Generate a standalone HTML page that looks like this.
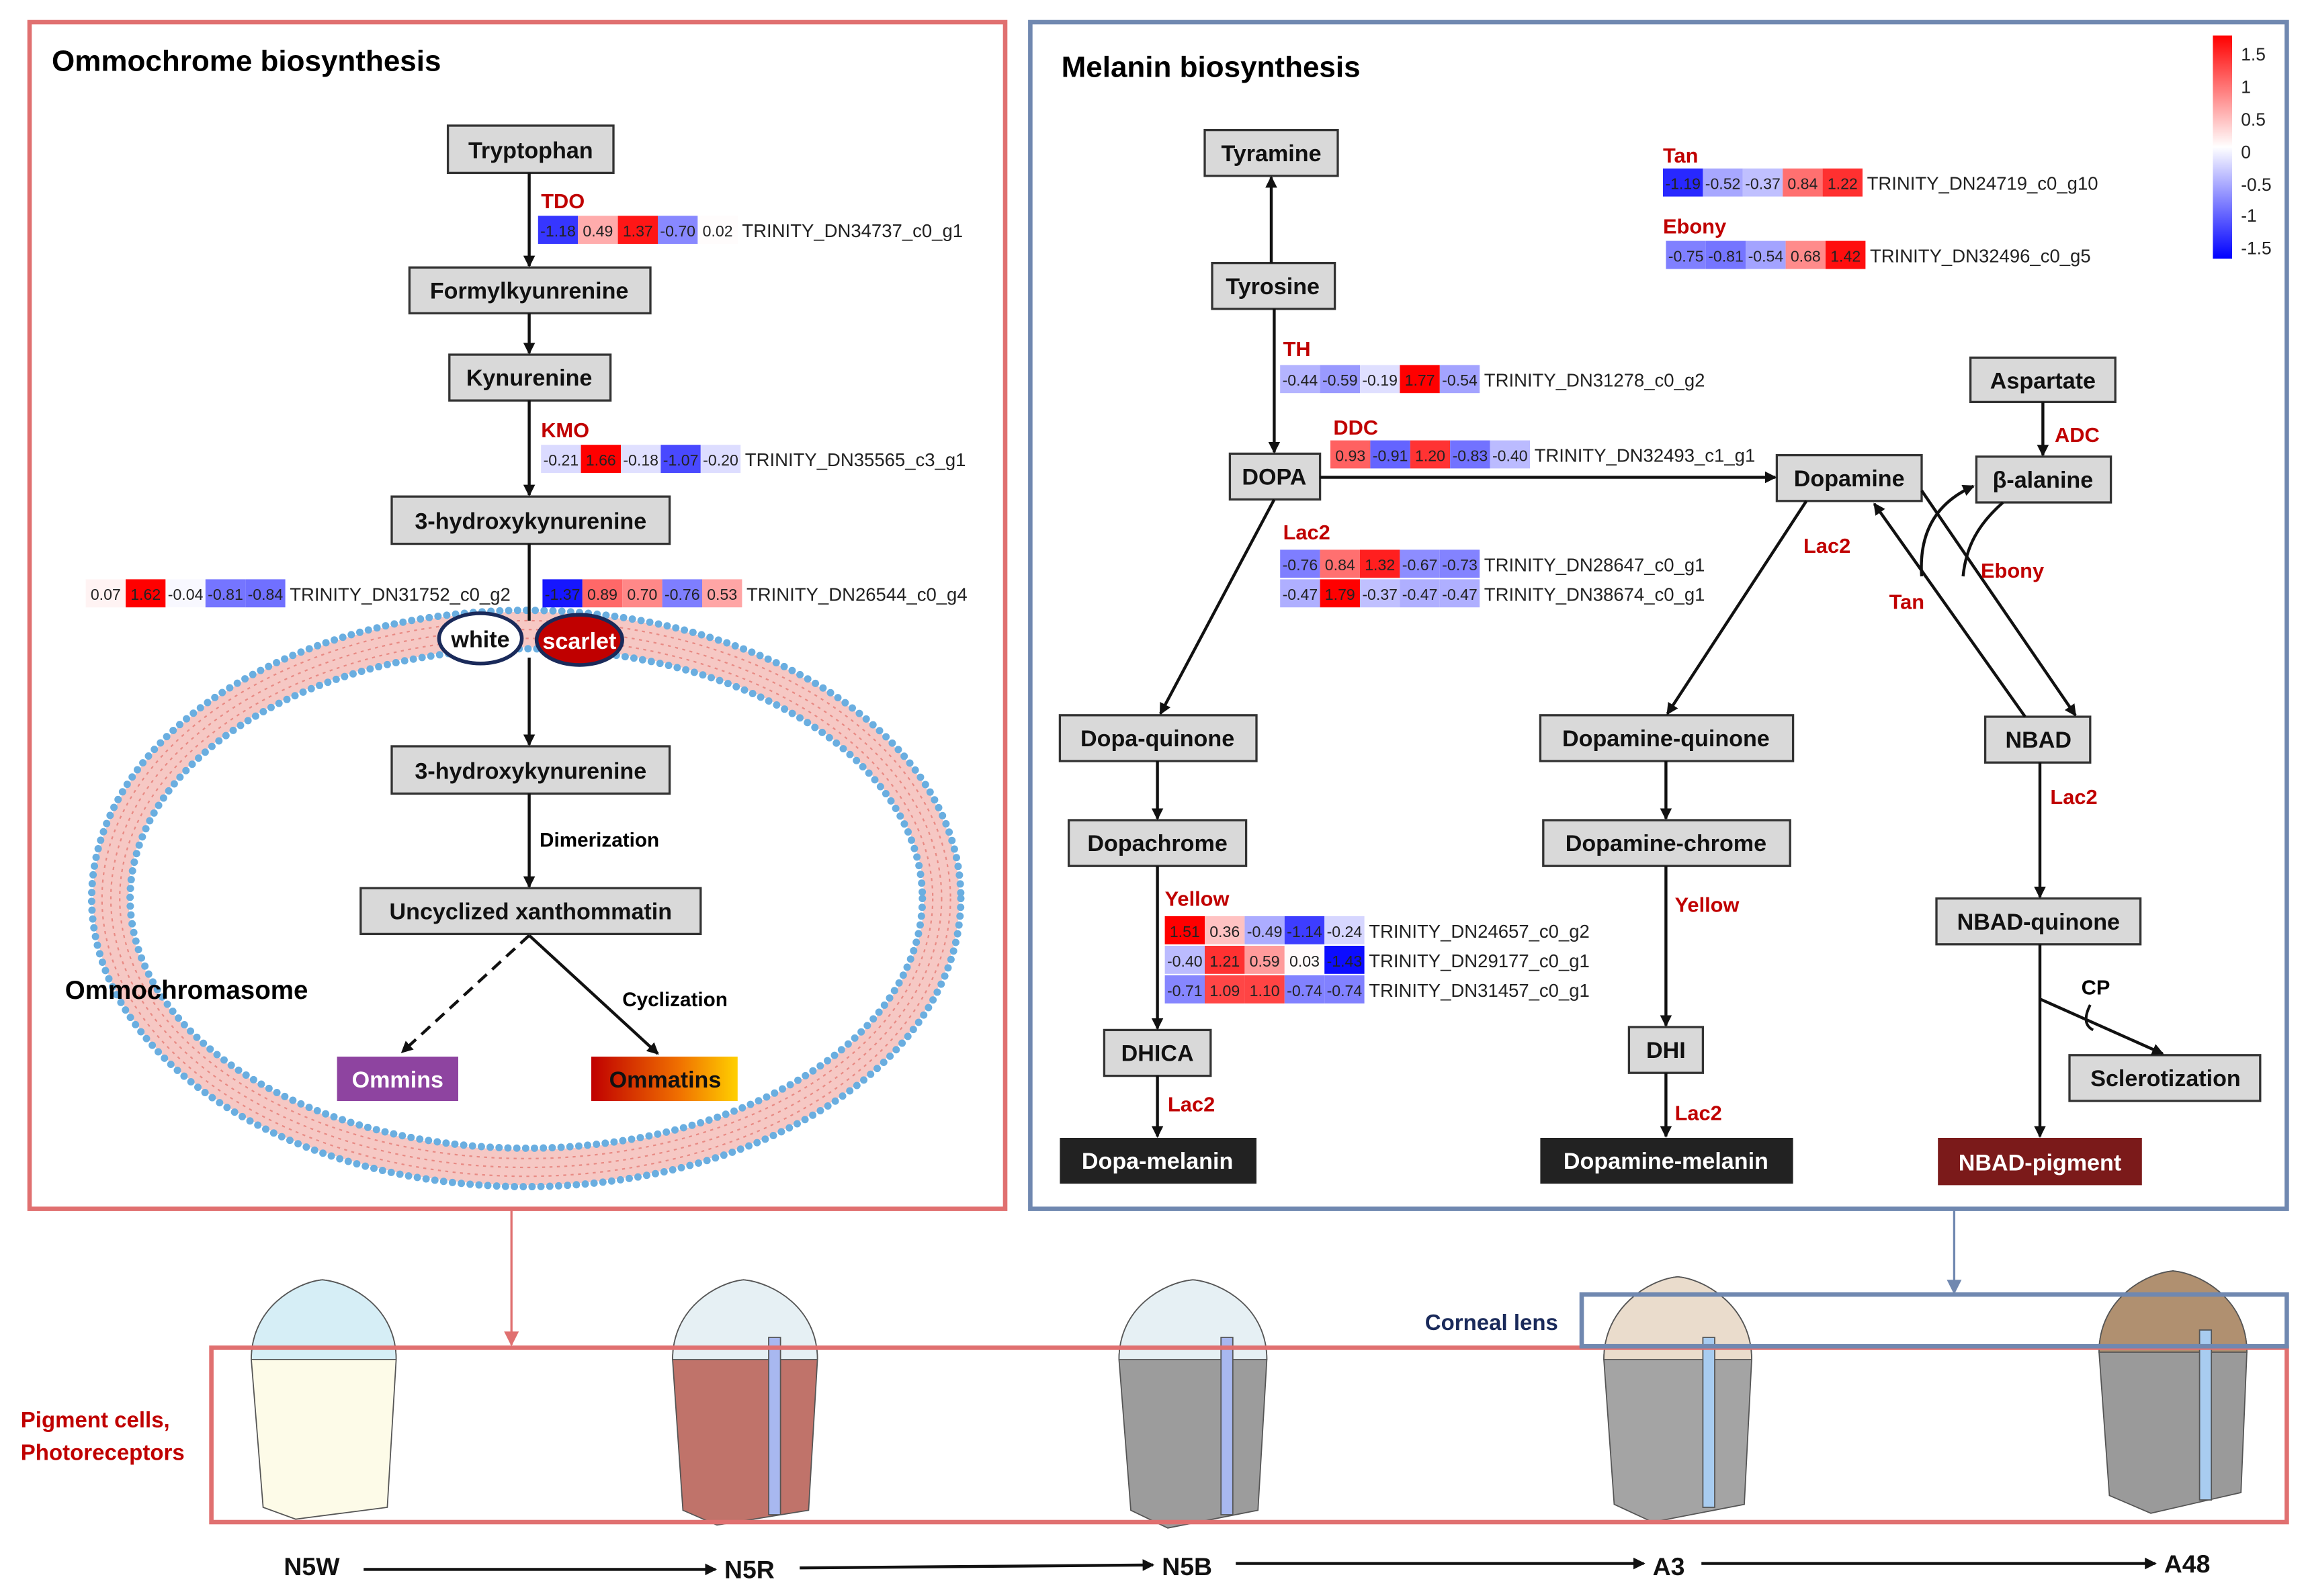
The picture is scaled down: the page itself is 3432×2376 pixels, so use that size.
<!DOCTYPE html>
<html><head><meta charset="utf-8"><style>
html,body{margin:0;padding:0;background:#fff;}
svg{display:block;}
text{font-family:"Liberation Sans",sans-serif;}
.n{fill:#d9d9d9;stroke:#333;stroke-width:1.5;}
.nt{font-weight:bold;font-size:15.5px;fill:#111;text-anchor:middle;}
.r{font-weight:bold;font-size:14px;fill:#c00000;}
.c{font-size:10.5px;fill:#222;text-anchor:middle;}
.g{font-size:12.5px;fill:#222;}
.a{stroke:#111;stroke-width:2;fill:none;marker-end:url(#ah);}
</style></head><body>
<svg width="3432" height="2376" viewBox="0 0 1560 1080" xmlns="http://www.w3.org/2000/svg">
<defs>
<marker id="ah" markerWidth="8" markerHeight="8" refX="7" refY="4" orient="auto" markerUnits="userSpaceOnUse"><path d="M0,0 L8,4 L0,8 z" fill="#111"/></marker>
<marker id="ahr" markerWidth="10" markerHeight="10" refX="9" refY="5" orient="auto" markerUnits="userSpaceOnUse"><path d="M0,0 L10,5 L0,10 z" fill="#e07070"/></marker>
<marker id="ahb" markerWidth="10" markerHeight="10" refX="9" refY="5" orient="auto" markerUnits="userSpaceOnUse"><path d="M0,0 L10,5 L0,10 z" fill="#7088b0"/></marker>
<linearGradient id="omt" x1="0" x2="1" y1="0" y2="0"><stop offset="0" stop-color="#c00000"/><stop offset="0.6" stop-color="#f07000"/><stop offset="1" stop-color="#ffd000"/></linearGradient>
<linearGradient id="cb" x1="0" x2="0" y1="0" y2="1"><stop offset="0" stop-color="#ff0000"/><stop offset="0.5" stop-color="#ffffff"/><stop offset="1" stop-color="#0000ff"/></linearGradient>
</defs>

<rect x="20" y="15" width="660" height="803" fill="none" stroke="#e07070" stroke-width="3"/>
<rect x="697" y="15" width="850" height="803" fill="none" stroke="#7088b0" stroke-width="3"/>
<text x="35" y="48" font-weight="bold" font-size="20">Ommochrome biosynthesis</text>
<text x="718" y="52" font-weight="bold" font-size="20">Melanin biosynthesis</text>

<ellipse cx="356" cy="608" rx="281" ry="182" fill="none" stroke="#f6c8c4" stroke-width="24"/>
<ellipse cx="356" cy="608" rx="281" ry="182" fill="none" stroke="#e88a84" stroke-width="1" stroke-dasharray="2 3"/>
<ellipse cx="356" cy="608" rx="287" ry="188" fill="none" stroke="#e88a84" stroke-width="1" stroke-dasharray="2 3"/>
<ellipse cx="356" cy="608" rx="275" ry="176" fill="none" stroke="#e88a84" stroke-width="1" stroke-dasharray="2 3"/>
<ellipse cx="356" cy="608" rx="294" ry="195" fill="none" stroke="#6aaee0" stroke-width="5" stroke-dasharray="0 6" stroke-linecap="round"/>
<ellipse cx="356" cy="608" rx="268" ry="169" fill="none" stroke="#6aaee0" stroke-width="5" stroke-dasharray="0 6" stroke-linecap="round"/>

<rect class="n" x="303" y="85" width="112" height="32"/><text class="nt" x="359" y="107">Tryptophan</text>
<rect class="n" x="277" y="181" width="163" height="31"/><text class="nt" x="358" y="202">Formylkyunrenine</text>
<rect class="n" x="304" y="240" width="109" height="31"/><text class="nt" x="358" y="261">Kynurenine</text>
<rect class="n" x="265" y="336" width="188" height="32"/><text class="nt" x="359" y="358">3-hydroxykynurenine</text>
<rect class="n" x="265" y="505" width="188" height="32"/><text class="nt" x="359" y="527">3-hydroxykynurenine</text>
<rect class="n" x="244" y="601" width="230" height="31"/><text class="nt" x="359" y="622">Uncyclized xanthommatin</text>
<rect x="228" y="715" width="82" height="30" fill="#8e44a0"/><text class="nt" x="269" y="736" style="fill:#fff">Ommins</text>
<rect x="400" y="715" width="99" height="30" fill="url(#omt)"/><text class="nt" x="450" y="736">Ommatins</text>

<line class="a" x1="358" y1="117" x2="358" y2="180"/>
<line class="a" x1="358" y1="212" x2="358" y2="239"/>
<line class="a" x1="358" y1="271" x2="358" y2="335"/>
<line x1="358" y1="368" x2="358" y2="420" stroke="#111" stroke-width="2"/>
<line class="a" x1="358" y1="445" x2="358" y2="504"/>
<line class="a" x1="358" y1="537" x2="358" y2="600"/>
<line class="a" x1="358" y1="633" x2="272" y2="712" stroke-dasharray="8 5"/>
<line class="a" x1="358" y1="633" x2="445" y2="713"/>
<ellipse cx="325" cy="432" rx="28" ry="17" fill="#fff" stroke="#1a2a5a" stroke-width="2.5"/>
<text class="nt" x="325" y="438">white</text>
<ellipse cx="392" cy="433" rx="29" ry="17" fill="#c00000" stroke="#1a2a5a" stroke-width="2.5"/>
<text class="nt" x="392" y="439" style="fill:#fff">scarlet</text>
<text x="365" y="573" font-weight="bold" font-size="13.5">Dimerization</text>
<text x="421" y="681" font-weight="bold" font-size="13.5">Cyclization</text>
<text x="44" y="676" font-weight="bold" font-size="17.5">Ommochromasome</text>

<text class="r" x="366" y="141">TDO</text>
<text class="r" x="366" y="296">KMO</text>

<g transform="translate(364,146)">
<rect width="27" height="19" fill="rgb(54,54,255)"/><rect x="27" width="27" height="19" fill="rgb(255,172,172)"/><rect x="54" width="27" height="19" fill="rgb(255,22,22)"/><rect x="81" width="27" height="19" fill="rgb(136,136,255)"/><rect x="108" width="27" height="19" fill="rgb(255,252,252)"/>
<text class="c" x="13.5" y="14">-1.18</text><text class="c" x="40.5" y="14">0.49</text><text class="c" x="67.5" y="14">1.37</text><text class="c" x="94.5" y="14">-0.70</text><text class="c" x="121.5" y="14">0.02</text>
<text class="g" x="138" y="14.5">TRINITY_DN34737_c0_g1</text></g>
<g transform="translate(366,301)">
<rect width="27" height="19" fill="rgb(219,219,255)"/><rect x="27" width="27" height="19" fill="rgb(255,0,0)"/><rect x="54" width="27" height="19" fill="rgb(224,224,255)"/><rect x="81" width="27" height="19" fill="rgb(73,73,255)"/><rect x="108" width="27" height="19" fill="rgb(221,221,255)"/>
<text class="c" x="13.5" y="14">-0.21</text><text class="c" x="40.5" y="14">1.66</text><text class="c" x="67.5" y="14">-0.18</text><text class="c" x="94.5" y="14">-1.07</text><text class="c" x="121.5" y="14">-0.20</text>
<text class="g" x="138" y="14.5">TRINITY_DN35565_c3_g1</text></g>
<g transform="translate(58,392)">
<rect width="27" height="19" fill="rgb(255,243,243)"/><rect x="27" width="27" height="19" fill="rgb(255,0,0)"/><rect x="54" width="27" height="19" fill="rgb(248,248,255)"/><rect x="81" width="27" height="19" fill="rgb(117,117,255)"/><rect x="108" width="27" height="19" fill="rgb(112,112,255)"/>
<text class="c" x="13.5" y="14">0.07</text><text class="c" x="40.5" y="14">1.62</text><text class="c" x="67.5" y="14">-0.04</text><text class="c" x="94.5" y="14">-0.81</text><text class="c" x="121.5" y="14">-0.84</text>
<text class="g" x="138" y="14.5">TRINITY_DN31752_c0_g2</text></g>
<g transform="translate(367,392)">
<rect width="27" height="19" fill="rgb(22,22,255)"/><rect x="27" width="27" height="19" fill="rgb(255,104,104)"/><rect x="54" width="27" height="19" fill="rgb(255,136,136)"/><rect x="81" width="27" height="19" fill="rgb(126,126,255)"/><rect x="108" width="27" height="19" fill="rgb(255,165,165)"/>
<text class="c" x="13.5" y="14">-1.37</text><text class="c" x="40.5" y="14">0.89</text><text class="c" x="67.5" y="14">0.70</text><text class="c" x="94.5" y="14">-0.76</text><text class="c" x="121.5" y="14">0.53</text>
<text class="g" x="138" y="14.5">TRINITY_DN26544_c0_g4</text></g>

<rect class="n" x="815" y="88" width="90" height="31"/><text class="nt" x="860" y="109">Tyramine</text>
<rect class="n" x="820" y="178" width="83" height="31"/><text class="nt" x="861" y="199">Tyrosine</text>
<rect class="n" x="832" y="307" width="61" height="31"/><text class="nt" x="862" y="328">DOPA</text>
<rect class="n" x="1202" y="308" width="98" height="31"/><text class="nt" x="1251" y="329">Dopamine</text>
<rect class="n" x="1333" y="242" width="98" height="30"/><text class="nt" x="1382" y="263">Aspartate</text>
<rect class="n" x="1337" y="309" width="91" height="31"/><text class="nt" x="1382" y="330">β-alanine</text>
<rect class="n" x="717" y="484" width="133" height="31"/><text class="nt" x="783" y="505">Dopa-quinone</text>
<rect class="n" x="723" y="555" width="120" height="31"/><text class="nt" x="783" y="576">Dopachrome</text>
<rect class="n" x="747" y="697" width="72" height="31"/><text class="nt" x="783" y="718">DHICA</text>
<rect x="717" y="770" width="133" height="31" fill="#222"/><text class="nt" x="783" y="791" style="fill:#fff">Dopa-melanin</text>
<rect class="n" x="1042" y="484" width="171" height="31"/><text class="nt" x="1127" y="505">Dopamine-quinone</text>
<rect class="n" x="1044" y="555" width="167" height="31"/><text class="nt" x="1127" y="576">Dopamine-chrome</text>
<rect class="n" x="1102" y="695" width="50" height="31"/><text class="nt" x="1127" y="716">DHI</text>
<rect x="1042" y="770" width="171" height="31" fill="#222"/><text class="nt" x="1127" y="791" style="fill:#fff">Dopamine-melanin</text>
<rect class="n" x="1343" y="485" width="71" height="31"/><text class="nt" x="1379" y="506">NBAD</text>
<rect class="n" x="1310" y="608" width="138" height="31"/><text class="nt" x="1379" y="629">NBAD-quinone</text>
<rect class="n" x="1400" y="714" width="129" height="31"/><text class="nt" x="1465" y="735">Sclerotization</text>
<rect x="1311" y="770" width="138" height="32" fill="#7b1a1a"/><text class="nt" x="1380" y="792" style="fill:#fff">NBAD-pigment</text>

<line class="a" x1="860" y1="178" x2="860" y2="120"/>
<line class="a" x1="862" y1="209" x2="862" y2="306"/>
<line class="a" x1="893" y1="323" x2="1201" y2="323"/>
<line class="a" x1="862" y1="338" x2="785" y2="483"/>
<line class="a" x1="1222" y1="339" x2="1128" y2="483"/>
<line class="a" x1="783" y1="515" x2="783" y2="554"/>
<line class="a" x1="783" y1="586" x2="783" y2="696"/>
<line class="a" x1="783" y1="728" x2="783" y2="769"/>
<line class="a" x1="1127" y1="515" x2="1127" y2="554"/>
<line class="a" x1="1127" y1="586" x2="1127" y2="694"/>
<line class="a" x1="1127" y1="726" x2="1127" y2="769"/>
<line class="a" x1="1382" y1="272" x2="1382" y2="308"/>
<line class="a" x1="1370" y1="485" x2="1268" y2="341"/>
<line class="a" x1="1300" y1="332" x2="1404" y2="484"/>
<path class="a" d="M1300,390 C1298,360 1310,340 1335,329"/>
<path d="M1355,340 C1338,355 1330,370 1328,390" stroke="#111" stroke-width="2" fill="none"/>
<line class="a" x1="1380" y1="516" x2="1380" y2="607"/>
<line class="a" x1="1380" y1="639" x2="1380" y2="769"/>
<line class="a" x1="1380" y1="676" x2="1463" y2="713"/>
<path d="M1414,680 C1410,688 1410,694 1416,697" stroke="#111" stroke-width="1.8" fill="none"/>

<text class="r" x="868" y="241">TH</text>
<text class="r" x="902" y="294">DDC</text>
<text class="r" x="868" y="365">Lac2</text>
<text class="r" x="1220" y="374">Lac2</text>
<text class="r" x="1390" y="299">ADC</text>
<text class="r" x="1340" y="391">Ebony</text>
<text class="r" x="1278" y="412">Tan</text>
<text class="r" x="788" y="613">Yellow</text>
<text class="r" x="1133" y="617">Yellow</text>
<text class="r" x="790" y="752">Lac2</text>
<text class="r" x="1133" y="758">Lac2</text>
<text class="r" x="1387" y="544">Lac2</text>
<text x="1408" y="673" font-weight="bold" font-size="14">CP</text>
<text class="r" x="1125" y="110">Tan</text>
<text class="r" x="1125" y="158">Ebony</text>

<g transform="translate(1125,114)">
<rect width="27" height="19" fill="rgb(40,40,255)"/><rect x="27" width="27" height="19" fill="rgb(167,167,255)"/><rect x="54" width="27" height="19" fill="rgb(192,192,255)"/><rect x="81" width="27" height="19" fill="rgb(255,112,112)"/><rect x="108" width="27" height="19" fill="rgb(255,48,48)"/>
<text class="c" x="13.5" y="14">-1.19</text><text class="c" x="40.5" y="14">-0.52</text><text class="c" x="67.5" y="14">-0.37</text><text class="c" x="94.5" y="14">0.84</text><text class="c" x="121.5" y="14">1.22</text>
<text class="g" x="138" y="14.5">TRINITY_DN24719_c0_g10</text></g>
<g transform="translate(1127,163)">
<rect width="27" height="19" fill="rgb(128,128,255)"/><rect x="27" width="27" height="19" fill="rgb(117,117,255)"/><rect x="54" width="27" height="19" fill="rgb(163,163,255)"/><rect x="81" width="27" height="19" fill="rgb(255,139,139)"/><rect x="108" width="27" height="19" fill="rgb(255,14,14)"/>
<text class="c" x="13.5" y="14">-0.75</text><text class="c" x="40.5" y="14">-0.81</text><text class="c" x="67.5" y="14">-0.54</text><text class="c" x="94.5" y="14">0.68</text><text class="c" x="121.5" y="14">1.42</text>
<text class="g" x="138" y="14.5">TRINITY_DN32496_c0_g5</text></g>
<g transform="translate(866,247)">
<rect width="27" height="19" fill="rgb(180,180,255)"/><rect x="27" width="27" height="19" fill="rgb(153,153,255)"/><rect x="54" width="27" height="19" fill="rgb(223,223,255)"/><rect x="81" width="27" height="19" fill="rgb(255,0,0)"/><rect x="108" width="27" height="19" fill="rgb(163,163,255)"/>
<text class="c" x="13.5" y="14">-0.44</text><text class="c" x="40.5" y="14">-0.59</text><text class="c" x="67.5" y="14">-0.19</text><text class="c" x="94.5" y="14">1.77</text><text class="c" x="121.5" y="14">-0.54</text>
<text class="g" x="138" y="14.5">TRINITY_DN31278_c0_g2</text></g>
<g transform="translate(900,298)">
<rect width="27" height="19" fill="rgb(255,97,97)"/><rect x="27" width="27" height="19" fill="rgb(100,100,255)"/><rect x="54" width="27" height="19" fill="rgb(255,51,51)"/><rect x="81" width="27" height="19" fill="rgb(114,114,255)"/><rect x="108" width="27" height="19" fill="rgb(187,187,255)"/>
<text class="c" x="13.5" y="14">0.93</text><text class="c" x="40.5" y="14">-0.91</text><text class="c" x="67.5" y="14">1.20</text><text class="c" x="94.5" y="14">-0.83</text><text class="c" x="121.5" y="14">-0.40</text>
<text class="g" x="138" y="14.5">TRINITY_DN32493_c1_g1</text></g>
<g transform="translate(866,372)">
<rect width="27" height="19" fill="rgb(126,126,255)"/><rect x="27" width="27" height="19" fill="rgb(255,112,112)"/><rect x="54" width="27" height="19" fill="rgb(255,31,31)"/><rect x="81" width="27" height="19" fill="rgb(141,141,255)"/><rect x="108" width="27" height="19" fill="rgb(131,131,255)"/>
<text class="c" x="13.5" y="14">-0.76</text><text class="c" x="40.5" y="14">0.84</text><text class="c" x="67.5" y="14">1.32</text><text class="c" x="94.5" y="14">-0.67</text><text class="c" x="121.5" y="14">-0.73</text>
<text class="g" x="138" y="14.5">TRINITY_DN28647_c0_g1</text></g>
<g transform="translate(866,392)">
<rect width="27" height="19" fill="rgb(175,175,255)"/><rect x="27" width="27" height="19" fill="rgb(255,0,0)"/><rect x="54" width="27" height="19" fill="rgb(192,192,255)"/><rect x="81" width="27" height="19" fill="rgb(175,175,255)"/><rect x="108" width="27" height="19" fill="rgb(175,175,255)"/>
<text class="c" x="13.5" y="14">-0.47</text><text class="c" x="40.5" y="14">1.79</text><text class="c" x="67.5" y="14">-0.37</text><text class="c" x="94.5" y="14">-0.47</text><text class="c" x="121.5" y="14">-0.47</text>
<text class="g" x="138" y="14.5">TRINITY_DN38674_c0_g1</text></g>
<g transform="translate(788,620)">
<rect width="27" height="19" fill="rgb(255,0,0)"/><rect x="27" width="27" height="19" fill="rgb(255,194,194)"/><rect x="54" width="27" height="19" fill="rgb(172,172,255)"/><rect x="81" width="27" height="19" fill="rgb(61,61,255)"/><rect x="108" width="27" height="19" fill="rgb(214,214,255)"/>
<text class="c" x="13.5" y="14">1.51</text><text class="c" x="40.5" y="14">0.36</text><text class="c" x="67.5" y="14">-0.49</text><text class="c" x="94.5" y="14">-1.14</text><text class="c" x="121.5" y="14">-0.24</text>
<text class="g" x="138" y="14.5">TRINITY_DN24657_c0_g2</text></g>
<g transform="translate(788,640)">
<rect width="27" height="19" fill="rgb(187,187,255)"/><rect x="27" width="27" height="19" fill="rgb(255,49,49)"/><rect x="54" width="27" height="19" fill="rgb(255,155,155)"/><rect x="81" width="27" height="19" fill="rgb(255,250,250)"/><rect x="108" width="27" height="19" fill="rgb(12,12,255)"/>
<text class="c" x="13.5" y="14">-0.40</text><text class="c" x="40.5" y="14">1.21</text><text class="c" x="67.5" y="14">0.59</text><text class="c" x="94.5" y="14">0.03</text><text class="c" x="121.5" y="14">-1.43</text>
<text class="g" x="138" y="14.5">TRINITY_DN29177_c0_g1</text></g>
<g transform="translate(788,660)">
<rect width="27" height="19" fill="rgb(134,134,255)"/><rect x="27" width="27" height="19" fill="rgb(255,70,70)"/><rect x="54" width="27" height="19" fill="rgb(255,68,68)"/><rect x="81" width="27" height="19" fill="rgb(129,129,255)"/><rect x="108" width="27" height="19" fill="rgb(129,129,255)"/>
<text class="c" x="13.5" y="14">-0.71</text><text class="c" x="40.5" y="14">1.09</text><text class="c" x="67.5" y="14">1.10</text><text class="c" x="94.5" y="14">-0.74</text><text class="c" x="121.5" y="14">-0.74</text>
<text class="g" x="138" y="14.5">TRINITY_DN31457_c0_g1</text></g>

<rect x="1497" y="24" width="13" height="151" fill="url(#cb)"/>
<g font-size="12" fill="#222">
<text x="1516" y="41">1.5</text><text x="1516" y="63">1</text><text x="1516" y="85">0.5</text><text x="1516" y="107">0</text><text x="1516" y="129">-0.5</text><text x="1516" y="150">-1</text><text x="1516" y="172">-1.5</text></g>

<line x1="346" y1="818" x2="346" y2="910" stroke="#e07070" stroke-width="1.5" marker-end="url(#ahr)"/>
<line x1="1322" y1="818" x2="1322" y2="875" stroke="#7088b0" stroke-width="1.5" marker-end="url(#ahb)"/>

<g stroke="#555" stroke-width="0.8">
<path d="M170,920 C170,885 200,868 218,866 C238,868 268,885 268,920 L262,1020 L200,1028 L178,1020 Z" fill="#fdfbe8"/>
<path d="M170,920 C170,885 200,868 218,866 C238,868 268,885 268,920 Z" fill="#d6eef6"/>
<path d="M455,920 C455,885 485,868 503,866 C523,868 553,885 553,920 L547,1022 L485,1032 L462,1022 Z" fill="#c0736a"/>
<path d="M455,920 C455,885 485,868 503,866 C523,868 553,885 553,920 Z" fill="#e6f0f4"/>
<rect x="520" y="905" width="8" height="120" fill="#a8b8f0"/>
<path d="M757,920 C757,885 787,868 807,866 C827,868 857,885 857,920 L851,1022 L790,1034 L765,1022 Z" fill="#9c9c9c"/>
<path d="M757,920 C757,885 787,868 807,866 C827,868 857,885 857,920 Z" fill="#e6f0f4"/>
<rect x="826" y="905" width="8" height="120" fill="#a8b8f0"/>
<path d="M1085,920 C1085,885 1115,866 1135,864 C1155,866 1185,885 1185,920 L1180,1018 L1118,1030 L1092,1018 Z" fill="#a4a4a4"/>
<path d="M1085,920 C1085,885 1115,866 1135,864 C1155,866 1185,885 1185,920 Z" fill="#eadccc"/>
<rect x="1152" y="905" width="8" height="115" fill="#a8ccf0"/>
<path d="M1420,915 C1420,880 1450,862 1470,860 C1490,862 1520,880 1520,915 L1516,1010 L1455,1024 L1427,1012 Z" fill="#9a9a9a"/>
<path d="M1420,915 C1420,880 1450,862 1470,860 C1490,862 1520,880 1520,915 Z" fill="#b09070"/>
<rect x="1488" y="900" width="8" height="115" fill="#a8ccf0"/>
</g>

<rect x="143" y="912" width="1404" height="118" fill="none" stroke="#e07070" stroke-width="3"/>
<rect x="1070" y="876" width="477" height="35" fill="none" stroke="#7088b0" stroke-width="3"/>
<text x="964" y="900" font-weight="bold" font-size="15" fill="#1a2a5a">Corneal lens</text>
<text x="14" y="966" font-weight="bold" font-size="15" fill="#c00000">Pigment cells,</text>
<text x="14" y="988" font-weight="bold" font-size="15" fill="#c00000">Photoreceptors</text>

<g font-weight="bold" font-size="17" fill="#111">
<text x="192" y="1066">N5W</text><text x="490" y="1068">N5R</text><text x="786" y="1066">N5B</text><text x="1118" y="1066">A3</text><text x="1464" y="1064">A48</text></g>
<g stroke="#111" stroke-width="2.5">
<line class="a" x1="246" y1="1062" x2="484" y2="1062"/>
<line class="a" x1="541" y1="1061" x2="780" y2="1059"/>
<line class="a" x1="836" y1="1058" x2="1112" y2="1058"/>
<line class="a" x1="1151" y1="1058" x2="1458" y2="1058"/>
</g>
</svg>
</body></html>
